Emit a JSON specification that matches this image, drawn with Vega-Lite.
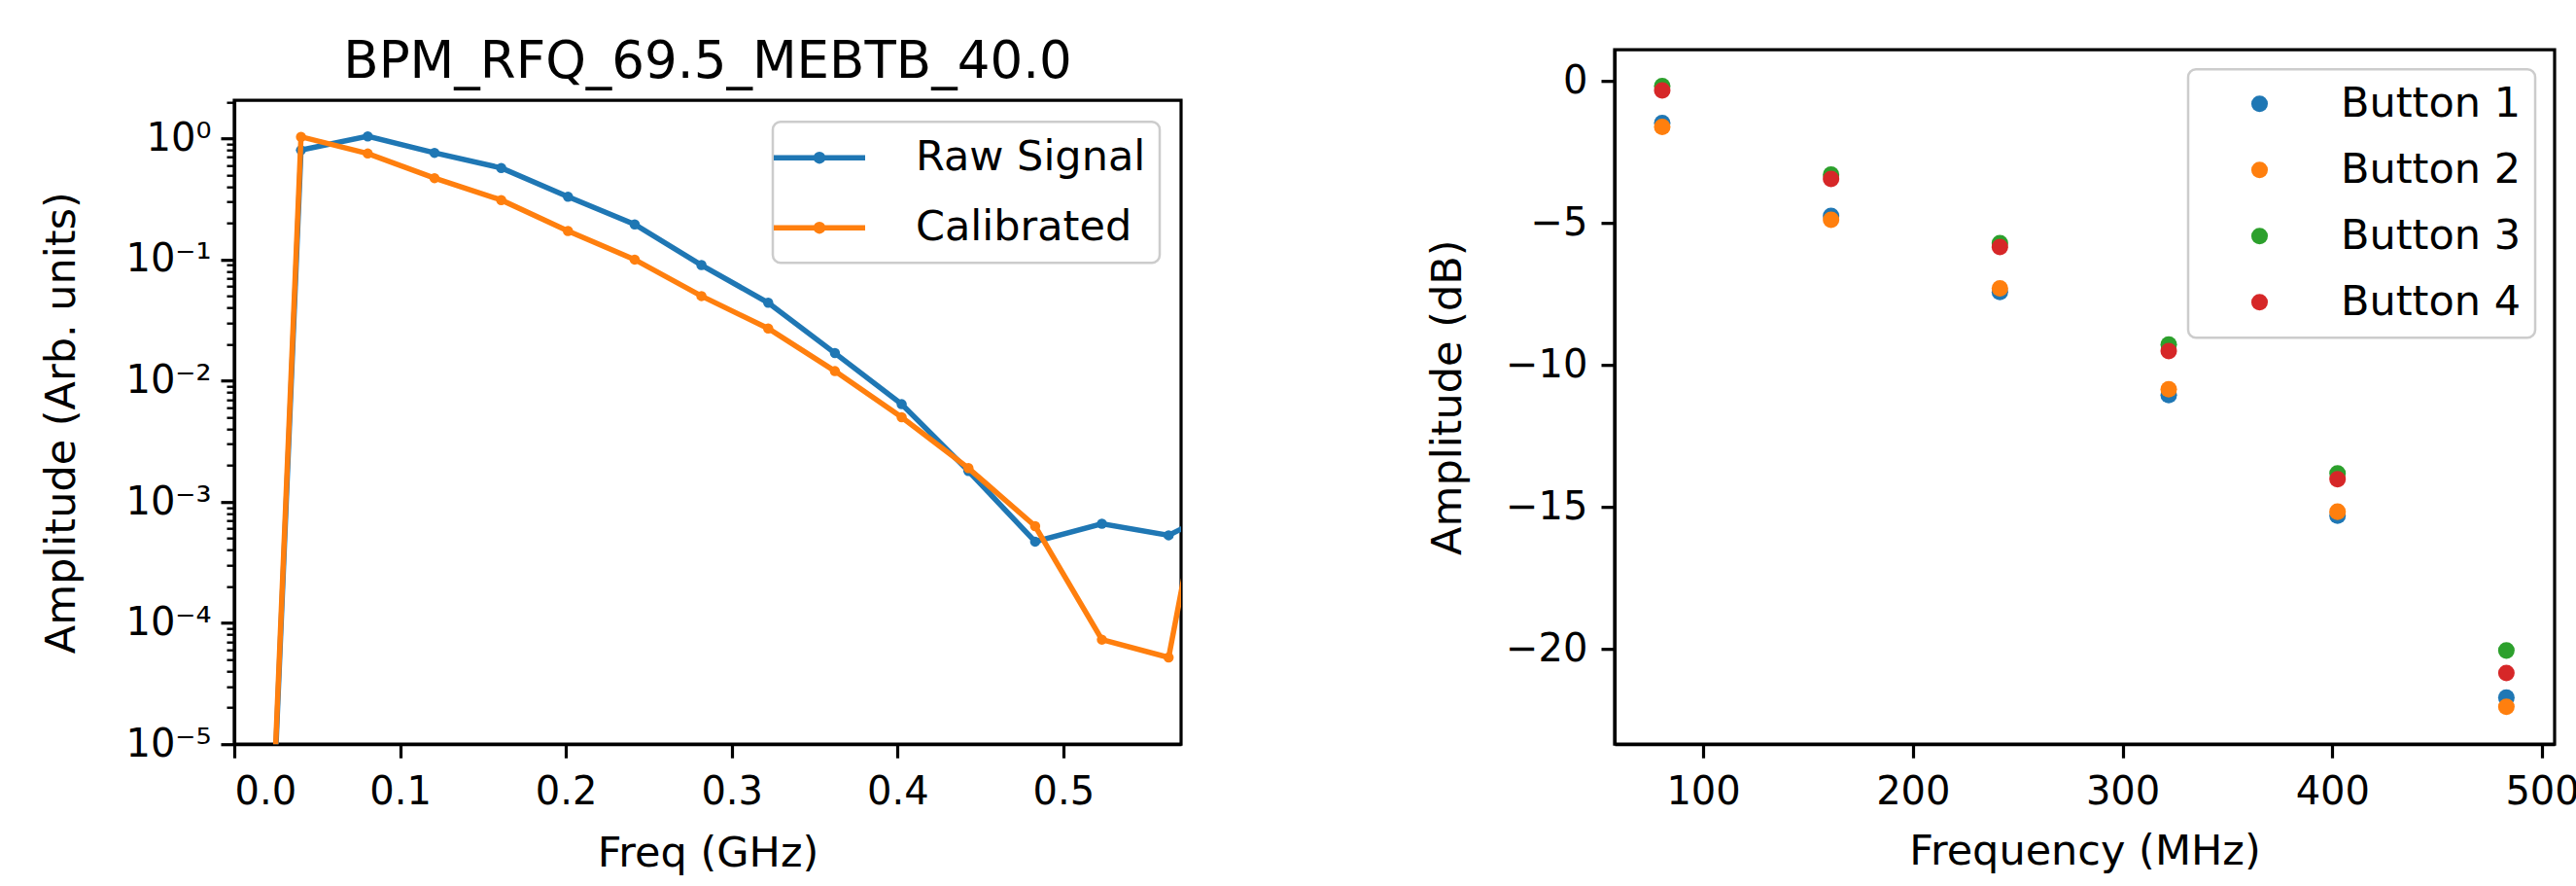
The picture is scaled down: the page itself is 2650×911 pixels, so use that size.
{
  "$schema": "https://vega.github.io/schema/vega-lite/v6.json",
  "padding": {"left": 41, "top": 36, "right": 0, "bottom": 0},
  "spacing": 249,
  "center": true,
  "config": {
    "font": "DejaVu Sans",
    "view": {"stroke": "black", "strokeWidth": 3.2},
    "axis": {"grid": false, "domainColor": "black", "domainWidth": 3.2, "tickColor": "black", "tickWidth": 3.2, "tickSize": 14, "labelColor": "black", "labelFontSize": 40, "titleColor": "black", "titleFontSize": 43, "titleFontWeight": "normal", "labelFont": "DejaVu Sans", "titleFont": "DejaVu Sans"},
    "legend": {"labelFontSize": 43, "labelColor": "black", "labelFont": "DejaVu Sans", "labelLimit": 600, "fillColor": "white", "strokeColor": "#cccccc", "strokeWidth": 2.5, "cornerRadius": 8, "padding": 14},
    "title": {"color": "black", "fontWeight": "normal", "font": "DejaVu Sans"}
  },
  "resolve": {"scale": {"color": "independent", "x": "independent", "y": "independent"}, "legend": {"color": "independent"}},
  "hconcat": [
    {
      "title": {"text": "BPM_RFQ_69.5_MEBTB_40.0", "fontSize": 53, "offset": -6, "anchor": "middle"},
      "width": 974,
      "height": 662,
      "data": {"values": [
        {"series": "Raw Signal", "freq": 0, "amp": 6e-14},
        {"series": "Raw Signal", "freq": 0.04025, "amp": 0.80},
        {"series": "Raw Signal", "freq": 0.0805, "amp": 1.04},
        {"series": "Raw Signal", "freq": 0.12075, "amp": 0.76},
        {"series": "Raw Signal", "freq": 0.161, "amp": 0.57},
        {"series": "Raw Signal", "freq": 0.20125, "amp": 0.33},
        {"series": "Raw Signal", "freq": 0.2415, "amp": 0.195},
        {"series": "Raw Signal", "freq": 0.28175, "amp": 0.090},
        {"series": "Raw Signal", "freq": 0.322, "amp": 0.044},
        {"series": "Raw Signal", "freq": 0.36225, "amp": 0.0169},
        {"series": "Raw Signal", "freq": 0.4025, "amp": 0.0064},
        {"series": "Raw Signal", "freq": 0.44275, "amp": 0.0018},
        {"series": "Raw Signal", "freq": 0.483, "amp": 0.00047},
        {"series": "Raw Signal", "freq": 0.52325, "amp": 0.00066},
        {"series": "Raw Signal", "freq": 0.5635, "amp": 0.00053},
        {"series": "Raw Signal", "freq": 0.60375, "amp": 0.001},
        {"series": "Calibrated", "freq": 0, "amp": 6e-14},
        {"series": "Calibrated", "freq": 0.04025, "amp": 1.03},
        {"series": "Calibrated", "freq": 0.0805, "amp": 0.75},
        {"series": "Calibrated", "freq": 0.12075, "amp": 0.47},
        {"series": "Calibrated", "freq": 0.161, "amp": 0.31},
        {"series": "Calibrated", "freq": 0.20125, "amp": 0.172},
        {"series": "Calibrated", "freq": 0.2415, "amp": 0.100},
        {"series": "Calibrated", "freq": 0.28175, "amp": 0.050},
        {"series": "Calibrated", "freq": 0.322, "amp": 0.027},
        {"series": "Calibrated", "freq": 0.36225, "amp": 0.012},
        {"series": "Calibrated", "freq": 0.4025, "amp": 0.0050},
        {"series": "Calibrated", "freq": 0.44275, "amp": 0.0019},
        {"series": "Calibrated", "freq": 0.483, "amp": 0.00063},
        {"series": "Calibrated", "freq": 0.52325, "amp": 0.000073},
        {"series": "Calibrated", "freq": 0.5635, "amp": 0.000052},
        {"series": "Calibrated", "freq": 0.60375, "amp": 0.04}
      ]},
      "layer": [
        {
          "transform": [{"filter": "datum.series == 'Raw Signal'"}],
          "mark": {"type": "line", "strokeWidth": 5.5, "clip": true, "point": {"filled": true, "size": 110, "clip": true}},
          "encoding": {
            "x": {"field": "freq", "type": "quantitative", "scale": {"domain": [0, 0.571], "nice": false, "zero": false},
                  "axis": {"values": [0, 0.1, 0.2, 0.3, 0.4, 0.5], "format": ".1f", "title": "Freq (GHz)", "labelPadding": 15, "titlePadding": 22}},
            "y": {"field": "amp", "type": "quantitative", "scale": {"type": "log", "domain": [0.00001, 2.06], "nice": false},
                  "axis": {
                    "values": [0.00001, 0.00002, 0.00003, 0.00004, 0.00005, 0.00006, 0.00007, 0.00008, 0.00009,
                               0.0001, 0.0002, 0.0003, 0.0004, 0.0005, 0.0006, 0.0007, 0.0008, 0.0009,
                               0.001, 0.002, 0.003, 0.004, 0.005, 0.006, 0.007, 0.008, 0.009,
                               0.01, 0.02, 0.03, 0.04, 0.05, 0.06, 0.07, 0.08, 0.09,
                               0.1, 0.2, 0.3, 0.4, 0.5, 0.6, 0.7, 0.8, 0.9, 1, 2],
                    "labelExpr": "datum.value == 1 ? '10⁰' : datum.value == 0.1 ? '10⁻¹' : datum.value == 0.01 ? '10⁻²' : datum.value == 0.001 ? '10⁻³' : datum.value == 0.0001 ? '10⁻⁴' : datum.value == 0.00001 ? '10⁻⁵' : ''",
                    "tickSize": {"condition": {"test": "datum.value == 1 || datum.value == 0.1 || datum.value == 0.01 || datum.value == 0.001 || datum.value == 0.0001 || datum.value == 0.00001", "value": 14}, "value": 8},
                    "tickWidth": {"condition": {"test": "datum.value == 1 || datum.value == 0.1 || datum.value == 0.01 || datum.value == 0.001 || datum.value == 0.0001 || datum.value == 0.00001", "value": 3.2}, "value": 2.4},
                    "labelPadding": 10,
                    "labelOverlap": false,
                    "title": "Amplitude (Arb. units)",
                    "titlePadding": 43
                  }},
            "color": {"field": "series", "type": "nominal",
                      "scale": {"domain": ["Raw Signal", "Calibrated"], "range": ["#1f77b4", "#ff7f0e"]},
                      "legend": {"orient": "top-right", "offset": 22, "title": null,
                                 "symbolType": "M-2.35,0H2.35M0.175,0A0.175,0.175,0,1,1,-0.175,0A0.175,0.175,0,1,1,0.175,0",
                                 "symbolSize": 1600, "symbolStrokeWidth": 5.5, "symbolOffset": 11, "labelOffset": 76, "rowPadding": 27, "padding": 14}}
          }
        },
        {
          "transform": [{"filter": "datum.series == 'Calibrated'"}],
          "mark": {"type": "line", "strokeWidth": 5.5, "clip": true, "point": {"filled": true, "size": 110, "clip": true}},
          "encoding": {
            "x": {"field": "freq", "type": "quantitative"},
            "y": {"field": "amp", "type": "quantitative"},
            "color": {"field": "series", "type": "nominal"}
          }
        }
      ]
    },
    {
      "width": 967,
      "height": 714,
      "data": {"values": [
        {"button": "Button 1", "freq": 80.5, "amp": -1.48},
        {"button": "Button 1", "freq": 161, "amp": -4.75},
        {"button": "Button 1", "freq": 241.5, "amp": -7.43},
        {"button": "Button 1", "freq": 322, "amp": -11.06},
        {"button": "Button 1", "freq": 402.5, "amp": -15.31},
        {"button": "Button 1", "freq": 483, "amp": -21.72},
        {"button": "Button 2", "freq": 80.5, "amp": -1.62},
        {"button": "Button 2", "freq": 161, "amp": -4.89},
        {"button": "Button 2", "freq": 241.5, "amp": -7.30},
        {"button": "Button 2", "freq": 322, "amp": -10.86},
        {"button": "Button 2", "freq": 402.5, "amp": -15.17},
        {"button": "Button 2", "freq": 483, "amp": -22.04},
        {"button": "Button 3", "freq": 80.5, "amp": -0.18},
        {"button": "Button 3", "freq": 161, "amp": -3.30},
        {"button": "Button 3", "freq": 241.5, "amp": -5.71},
        {"button": "Button 3", "freq": 322, "amp": -9.28},
        {"button": "Button 3", "freq": 402.5, "amp": -13.82},
        {"button": "Button 3", "freq": 483, "amp": -20.06},
        {"button": "Button 4", "freq": 80.5, "amp": -0.33},
        {"button": "Button 4", "freq": 161, "amp": -3.45},
        {"button": "Button 4", "freq": 241.5, "amp": -5.85},
        {"button": "Button 4", "freq": 322, "amp": -9.51},
        {"button": "Button 4", "freq": 402.5, "amp": -14.03},
        {"button": "Button 4", "freq": 483, "amp": -20.85}
      ]},
      "mark": {"type": "point", "filled": true, "size": 290, "opacity": 1},
      "encoding": {
        "x": {"field": "freq", "type": "quantitative", "scale": {"domain": [57.8, 506], "nice": false, "zero": false},
              "axis": {"values": [100, 200, 300, 400, 500], "title": ["Frequency (MHz)", ""], "titleLineHeight": 54, "labelPadding": 15, "titlePadding": 20}},
        "y": {"field": "amp", "type": "quantitative", "scale": {"domain": [-23.36, 1.1], "nice": false, "zero": false},
              "axis": {"values": [-20, -15, -10, -5, 0], "title": "Amplitude (dB)", "labelPadding": 14, "titlePadding": 37}},
        "color": {"field": "button", "type": "nominal",
                  "scale": {"domain": ["Button 1", "Button 2", "Button 3", "Button 4"], "range": ["#1f77b4", "#ff7f0e", "#2ca02c", "#d62728"]},
                  "legend": {"orient": "top-right", "offset": 20, "title": null, "symbolType": "circle", "symbolSize": 290, "symbolOffset": 38, "labelOffset": 62, "rowPadding": 24, "padding": 14}}
      }
    }
  ]
}
